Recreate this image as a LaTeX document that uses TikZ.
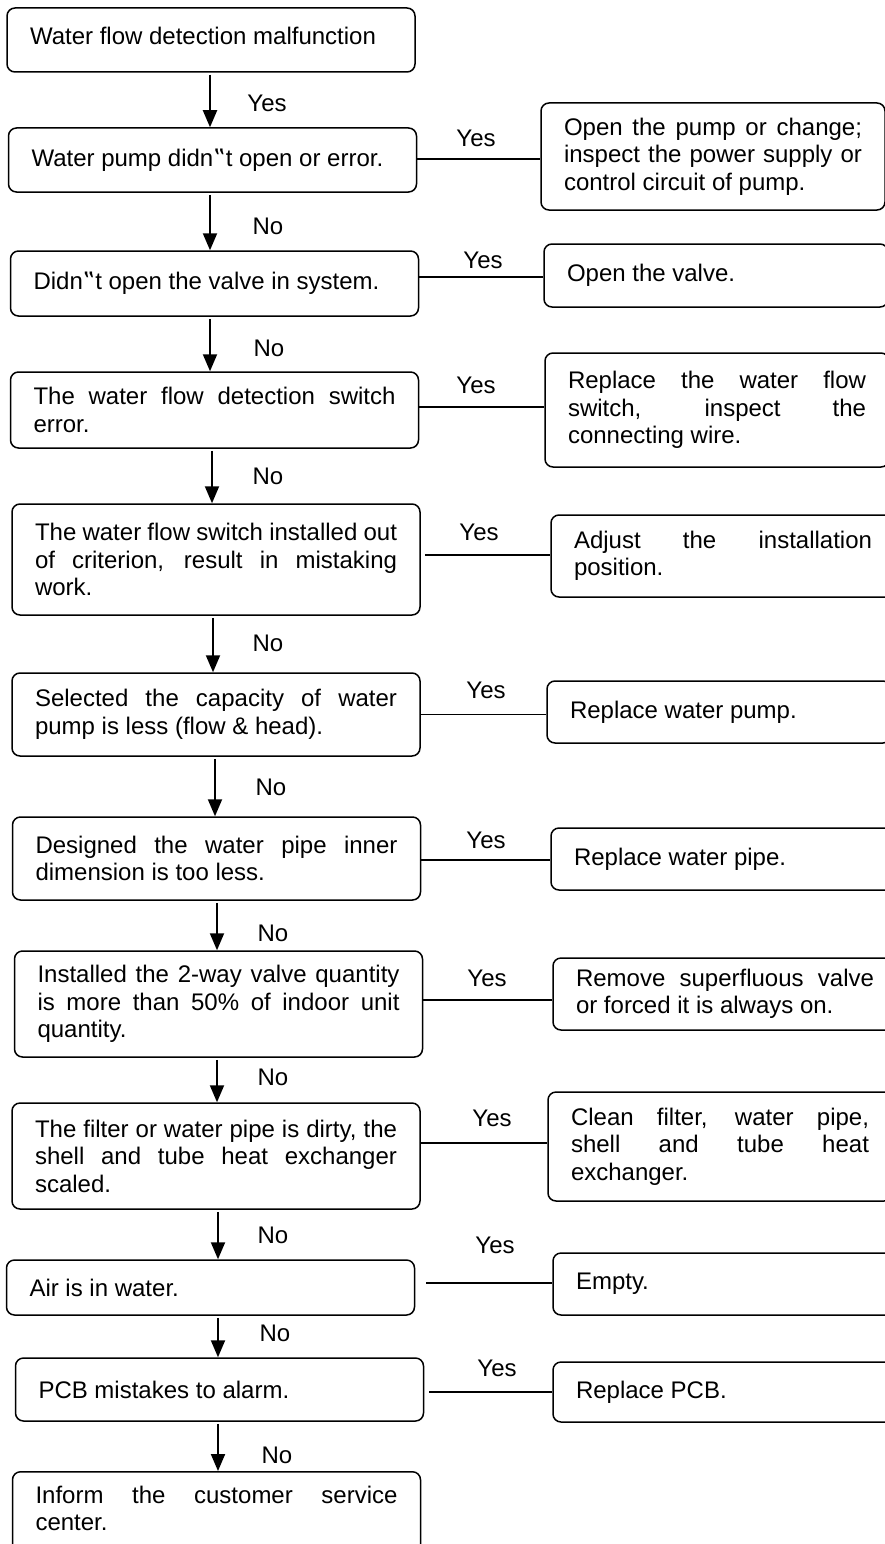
\documentclass[tikz,border=0pt]{standalone}
\usepackage{fontspec}
\setmainfont{Liberation Sans}
\newfontfamily\dvfont{DejaVu Sans}
\usetikzlibrary{arrows.meta}
\tolerance=10000
\hbadness=10000
\vbadness=10000
\hfuzz=4pt
\newcommand\fsz{\fontsize{24}{27.5}\selectfont}
\newcommand\apos{{\dvfont ‟}}
\newcommand\varr[3]{%
  \path ([xshift=#3pt]#1.south) coordinate (#1-o);
  \draw[arr] (#1-o) -- (#1-o |- #2.north);}
\newcommand\hconn[4]{%
  \path ([xshift=#4pt,yshift=#3pt]#1.east) coordinate (#1-h);
  \draw[conn] (#1-h) -- (#1-h -| #2.west);}
\begin{document}
\begin{tikzpicture}[x=1pt,y=-1pt,
  lbox/.style={draw, line width=1.5pt, rounded corners=8pt, text width=362pt,
    inner xsep=23pt, inner ysep=0pt, align=justify, font=\fsz},
  rbox/.style={draw, line width=1.5pt, rounded corners=8pt, text width=298pt,
    inner xsep=23pt, inner ysep=0pt, align=justify, font=\fsz},
  arr/.style={-{Triangle[length=17pt,width=14pt]}, line width=2pt, shorten <=2pt},
  conn/.style={line width=1.5pt},
  lab/.style={font=\fsz, inner sep=0pt}]
\useasboundingbox (0,0) rectangle (885,1544);
\clip (0,0) rectangle (885,1544);

% left column
\node[lbox, minimum height=64pt] (L1) at (211,40) {Water flow detection malfunction\rule[-8pt]{0pt}{0pt}};
\node[lbox, minimum height=64pt] (L2) at (212.5,160) {Water pump didn\apos t open or error.};
\node[lbox, minimum height=65pt] (L3) at (214.5,283.5) {Didn\apos t open the valve in system.};
\node[lbox, minimum height=76pt] (L4) at (214.5,410) {The water flow detection switch\linebreak error.};
\node[lbox, minimum height=111pt] (L5) at (216,559.5) {The water flow switch installed out\linebreak of criterion, result in mistaking\linebreak work.};
\node[lbox, minimum height=83pt] (L6) at (216,714.5) {Selected the capacity of water\linebreak pump is less (flow \& head).};
\node[lbox, minimum height=83pt] (L7) at (216.5,858.5) {Designed the water pipe inner\linebreak dimension is too less.};
\node[lbox, minimum height=106pt] (L8) at (218.5,1004) {Installed the 2-way valve quantity\linebreak is more than 50\% of indoor unit\linebreak quantity.};
\node[lbox, minimum height=106pt] (L9) at (216,1156) {The filter or water pipe is dirty, the\linebreak shell and tube heat exchanger\linebreak scaled.};
\node[lbox, minimum height=55pt] (L10) at (210.5,1287.5) {Air is in water.};
\node[lbox, minimum height=63pt] (L11) at (219.5,1389.5) {PCB mistakes to alarm.};
\node[lbox, anchor=north, inner ysep=14pt] (L12) at (216.5,1471) {Inform the customer service\linebreak center.\rule[-24pt]{0pt}{0pt}};

% right column
\node[rbox, minimum height=107pt] (R1) at (713,156.5) {Open the pump or change;\linebreak inspect the power supply or\linebreak control circuit of pump.};
\node[rbox, minimum height=63pt] (R2) at (716,275.5) {Open the valve.};
\node[rbox, minimum height=114pt] (R3) at (717,410) {Replace the water flow\linebreak switch, inspect the\linebreak connecting wire.};
\node[rbox, minimum height=82pt] (R4) at (723,556) {Adjust the installation\linebreak position.};
\node[rbox, minimum height=62pt] (R5) at (719,712) {Replace water pump.};
\node[rbox, minimum height=62pt] (R6) at (723,859) {Replace water pipe.};
\node[rbox, minimum height=72pt] (R7) at (725,994) {Remove superfluous valve\linebreak or forced it is always on.};
\node[rbox, minimum height=109pt] (R8) at (720,1146.5) {Clean filter, water pipe,\linebreak shell and tube heat\linebreak exchanger.};
\node[rbox, minimum height=62pt] (R9) at (725,1284) {Empty.};
\node[rbox, minimum height=60pt] (R10) at (725,1392) {Replace PCB.};

% vertical arrows
\varr{L1}{L2}{-1}
\varr{L2}{L3}{-2.5}
\varr{L3}{L4}{-4.5}
\varr{L4}{L5}{-2.5}
\varr{L5}{L6}{-3}
\varr{L6}{L7}{-1}
\varr{L7}{L8}{0.5}
\varr{L8}{L9}{-1.5}
\varr{L9}{L10}{2}
\varr{L10}{L11}{7.5}
\varr{L11}{L12}{-1.5}

% horizontal connectors
\hconn{L2}{R1}{1}{0}
\hconn{L3}{R2}{6.5}{0}
\hconn{L4}{R3}{3}{0}
\hconn{L5}{R4}{4.5}{4}
\hconn{L6}{R5}{0}{0}
\hconn{L7}{R6}{-1.5}{0}
\hconn{L8}{R7}{4}{0}
\hconn{L9}{R8}{13}{0}
\hconn{L10}{R9}{4.5}{11}
\hconn{L11}{R10}{-2.5}{5}

% vertical labels
\node[lab] (v1) at (267,103) {Yes};
\node[lab] (v2) at (268,226) {No};
\node[lab] (v3) at (269,348) {No};
\node[lab] (v4) at (268,476) {No};
\node[lab] (v5) at (268,643) {No};
\node[lab] (v6) at (271,787) {No};
\node[lab] (v7) at (273,933) {No};
\node[lab] (v8) at (273,1077) {No};
\node[lab] (v9) at (273,1235) {No};
\node[lab] (v10) at (275,1333) {No};
\node[lab] (v11) at (277,1455) {No};

% horizontal labels
\node[lab] (h1) at (476,138) {Yes};
\node[lab] (h2) at (483,260) {Yes};
\node[lab] (h3) at (476,385) {Yes};
\node[lab] (h4) at (479,532) {Yes};
\node[lab] (h5) at (486,690) {Yes};
\node[lab] (h6) at (486,840) {Yes};
\node[lab] (h7) at (487,978) {Yes};
\node[lab] (h8) at (492,1118) {Yes};
\node[lab] (h9) at (495,1245) {Yes};
\node[lab] (h10) at (497,1368) {Yes};
\end{tikzpicture}
\end{document}
